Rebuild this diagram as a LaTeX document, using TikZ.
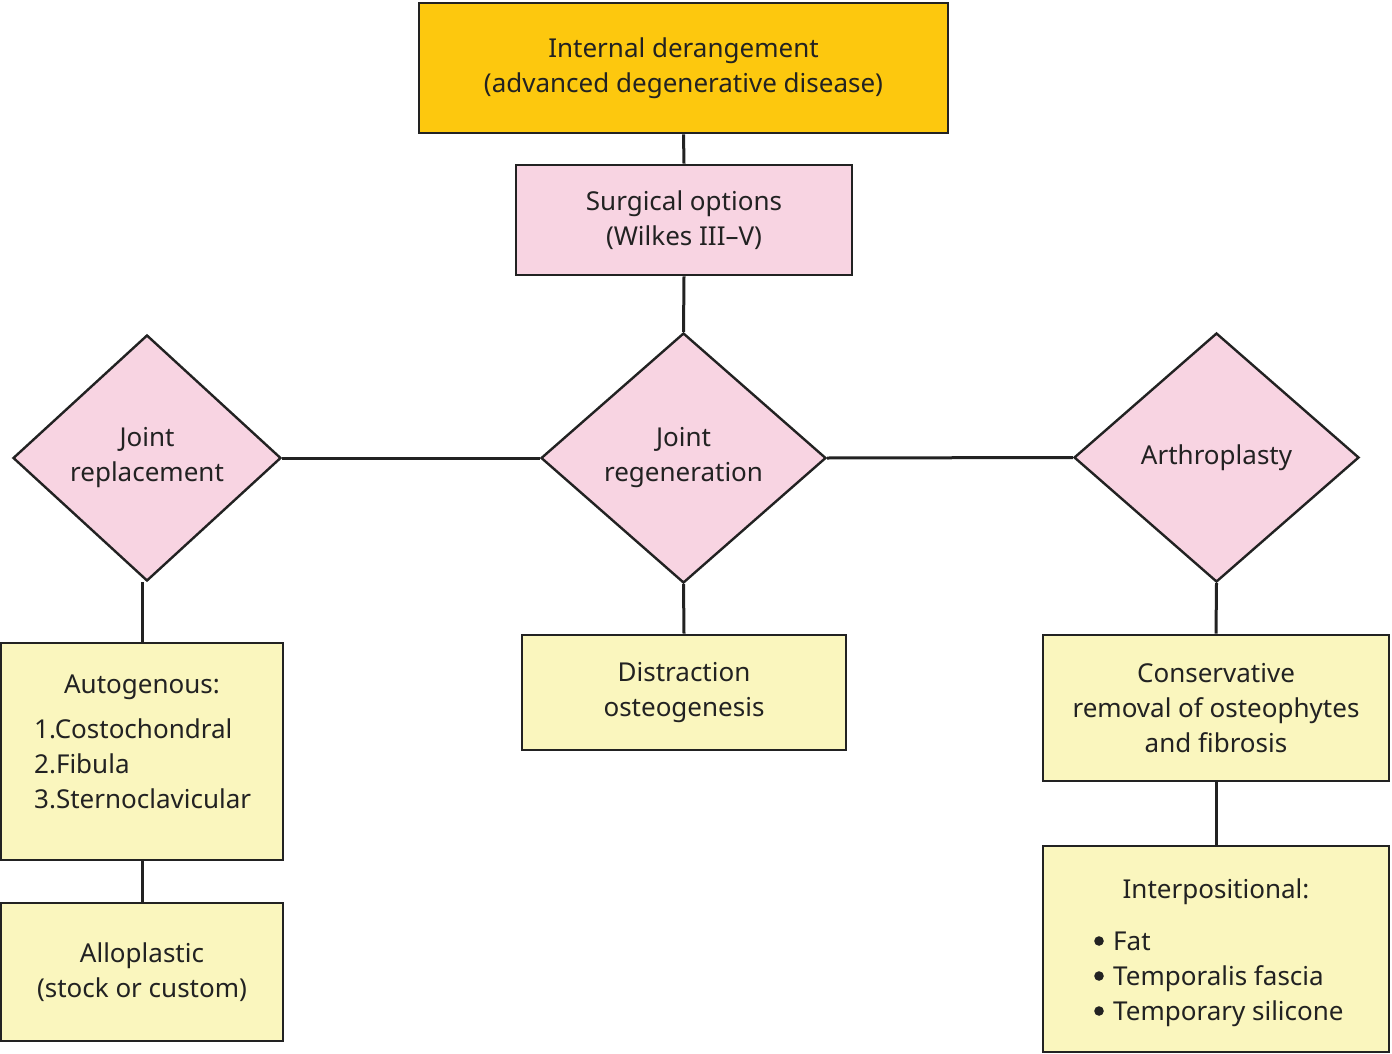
\documentclass[tikz,border=0pt]{standalone}
\usepackage{fontspec}
\setmainfont{Noto Sans}
\usetikzlibrary{shapes.geometric}
\definecolor{gold}{HTML}{FDC80E}
\definecolor{pinkfill}{HTML}{F8D4E2}
\definecolor{yellowfill}{HTML}{FAF6BE}
\definecolor{edge}{HTML}{222222}
\tikzset{
  basefont/.style={font=\fontsize{26}{35}\selectfont, text=edge},
  boxnode/.style={basefont, rectangle, draw=edge, line width=2.8pt, inner sep=0pt, align=center},
  diamondnode/.style={basefont, diamond, draw=edge, line width=2.4pt, inner sep=0pt, align=center, fill=pinkfill},
  txt/.style={basefont, inner sep=0pt},
  link/.style={draw=edge, line width=3pt},
  bulletdot/.style={fill=edge}
}
\begin{document}
\begin{tikzpicture}[x=1pt,y=-1pt]
\useasboundingbox[fill=white] (0,0) rectangle (1392,1054);
\node[boxnode, fill=gold, minimum width=529, minimum height=130] (top) at (683.5,68) {Internal derangement\\(advanced degenerative disease)};
\node[boxnode, fill=pinkfill, minimum width=336, minimum height=110] (surg) at (684,220) {Surgical options\\(Wilkes III–V)};
\node[diamondnode, minimum width=268, minimum height=246] (jr) at (147,458) {Joint\\replacement};
\node[diamondnode, minimum width=285, minimum height=250] (jg) at (683.5,458) {Joint\\regeneration};
\node[diamondnode, minimum width=285, minimum height=249] (ar) at (1216.5,457.5) {Arthroplasty};
\node[boxnode, fill=yellowfill, minimum width=282, minimum height=217] (auto) at (142,751.5) {};
\node[boxnode, fill=yellowfill, minimum width=282, minimum height=138] (allo) at (142,972) {Alloplastic\\(stock or custom)};
\node[boxnode, fill=yellowfill, minimum width=324, minimum height=115] (dist) at (684,692.5) {Distraction\\osteogenesis};
\node[boxnode, fill=yellowfill, minimum width=346, minimum height=146] (cons) at (1216,708) {Conservative\\removal of osteophytes\\and fibrosis};
\node[boxnode, fill=yellowfill, minimum width=346, minimum height=206] (interp) at (1216,949) {};
% texts inside list boxes
\node[txt, anchor=base] (autoh) at (142,693) {Autogenous:};
\node[txt, anchor=base west] (a1) at (34,738) {1.Costochondral};
\node[txt, anchor=base west] (a2) at (34,773) {2.Fibula};
\node[txt, anchor=base west] (a3) at (34,808) {3.Sternoclavicular};
\node[txt, anchor=base] (ih) at (1216,898) {Interpositional:};
\node[txt, anchor=base west] (i1) at (1113,950) {Fat};
\node[txt, anchor=base west] (i2) at (1113,985) {Temporalis fascia};
\node[txt, anchor=base west] (i3) at (1113,1020) {Temporary silicone};
\fill[bulletdot] ([xshift=-14pt,yshift=9pt]i1.base west) circle (4.8pt);
\fill[bulletdot] ([xshift=-14pt,yshift=9pt]i2.base west) circle (4.8pt);
\fill[bulletdot] ([xshift=-14pt,yshift=9pt]i3.base west) circle (4.8pt);
% connectors
\draw[link] (top.south) -- (surg.north);
\draw[link] (surg.south) -- (jg.north);
\draw[link] (jr.east) -- (jg.west);
\draw[link] (jg.east) -- (ar.west);
\draw[link] (jr.south -| auto.north) -- (auto.north);
\draw[link] (auto.south) -- (allo.north);
\draw[link] (jg.south) -- (dist.north);
\draw[link] (ar.south) -- (cons.north);
\draw[link] (cons.south) -- (interp.north);
\end{tikzpicture}
\end{document}
